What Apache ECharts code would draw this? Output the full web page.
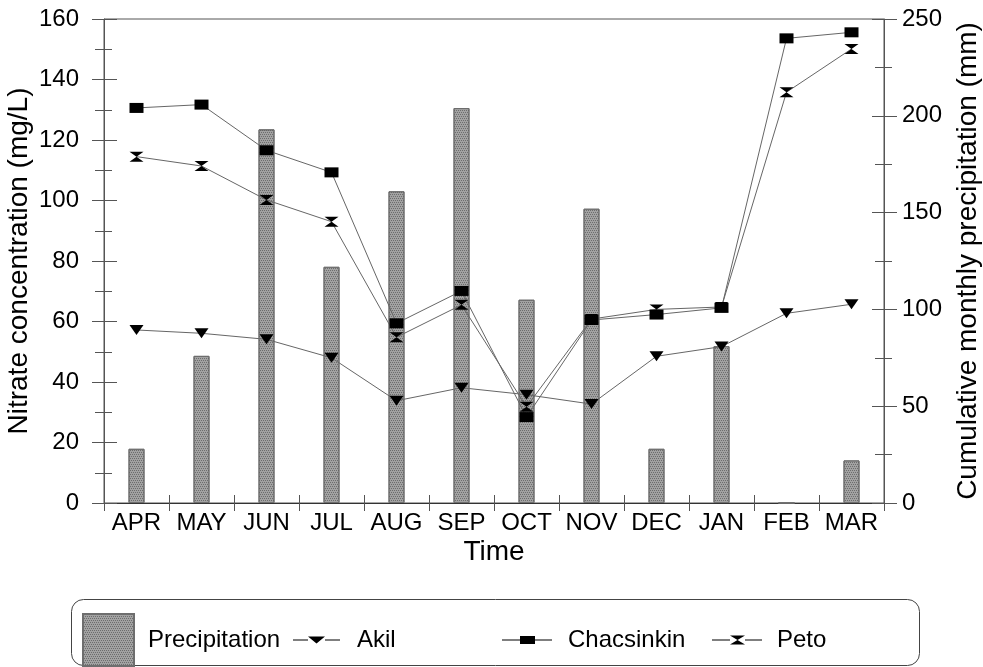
<!DOCTYPE html>
<html>
<head>
<meta charset="utf-8">
<script src="https://cdn.jsdelivr.net/npm/echarts@6/dist/echarts.min.js"></script>
<style>html,body{margin:0;padding:0;background:#fff}#c{width:983px;height:667px}</style>
</head>
<body>
<div id="c"></div>
<script>
// ---- data ----
const months = ['APR','MAY','JUN','JUL','AUG','SEP','OCT','NOV','DEC','JAN','FEB','MAR'];
const precipitation = [28, 76, 193, 122, 161, 204, 105, 152, 28, 81, 0, 22];
const akil = [57.2, 56.1, 54.1, 48.0, 33.8, 38.1, 35.8, 32.7, 48.5, 51.7, 62.7, 65.7];
const chacsinkin = [130.6, 131.7, 116.6, 109.3, 59.4, 70.1, 28.4, 60.5, 62.3, 64.5, 153.6, 155.6];
const peto = [114.5, 111.4, 100.2, 93.0, 54.8, 65.5, 31.8, 60.8, 64.0, 64.8, 135.8, 150.1];
const leftTicks = [0, 20, 40, 60, 80, 100, 120, 140, 160];
const rightTicks = [0, 50, 100, 150, 200, 250];

const FONT = "'Liberation Sans', Arial, Helvetica, sans-serif";
const AXIS_COLOR = '#555';

const akilSymbol = 'path://M0,0H14L7,10Z';
const petoSymbol = 'path://M0,0H14L7,5L14,10H0L7,5Z';

const akilIcon = 'path://M0,4.5H15V5.5H0Z M15,1.5H32L23.5,8.5Z M32,4.5H47V5.5H32Z';
const chacIcon = 'path://M0,4.5H18V5.5H0Z M18,1H33V9H18Z M33,4.5H50V5.5H33Z';
const petoIcon = 'path://M0,4.5H18V5.5H0Z M18,0.5H33L25.5,5L33,9.5H18L25.5,5Z M33,4.5H50V5.5H33Z';

function yAxisPair(pos, ticks, tickLenOut, tickLenIn, minorOut, minorIn, labelMargin, name, nameGap) {
  const min = ticks[0], max = ticks[ticks.length - 1], interval = ticks[1] - ticks[0];
  return [
    {
      type: 'value', position: pos, min: min, max: max, interval: interval,
      axisLine: { show: true, lineStyle: { color: AXIS_COLOR, width: 1 } },
      axisTick: { show: true, inside: false, length: tickLenOut, lineStyle: { color: AXIS_COLOR } },
      minorTick: { show: true, splitNumber: 2, length: minorOut, lineStyle: { color: AXIS_COLOR } },
      axisLabel: { show: true, color: '#000', fontSize: 24, fontFamily: FONT, margin: labelMargin },
      splitLine: { show: false }, minorSplitLine: { show: false },
      name: name, nameLocation: 'middle', nameGap: nameGap, nameRotate: 90, nameMoveOverlap: false,
      nameTextStyle: { color: '#000', fontSize: 28, fontFamily: FONT }
    },
    {
      type: 'value', position: pos, min: min, max: max, interval: interval,
      axisLine: { show: false },
      axisTick: { show: true, inside: true, length: tickLenIn, lineStyle: { color: AXIS_COLOR } },
      minorTick: { show: true, splitNumber: 2, length: minorIn, lineStyle: { color: AXIS_COLOR } },
      axisLabel: { show: false },
      splitLine: { show: false }, minorSplitLine: { show: false }
    }
  ];
}

const leftAxes = yAxisPair('left', leftTicks, 12, 13, 9, 8, 25, 'Nitrate concentration (mg/L)', 71);
const rightAxes = yAxisPair('right', rightTicks, 13, 12, 8, 9, 18, 'Cumulative monthly precipitation (mm)', 70);

const legendText = { color: '#000', fontSize: 24, fontFamily: FONT };

const barDecal = {
  symbol: 'rect', symbolSize: 1,
  dashArrayX: [[1, 1], [0, 1, 1, 0]],
  dashArrayY: [1, 1],
  rotation: 0,
  color: 'rgba(30,30,30,0.4)'
};

const option = {
  animation: false,
  backgroundColor: '#fff',
  grid: {
    left: 104, right: 99, top: 19, bottom: 164,
    show: true, borderColor: '#555', borderWidth: 1, backgroundColor: 'transparent',
    outerBoundsMode: 'none'
  },
  xAxis: [
    {
      type: 'category', data: months, position: 'bottom', boundaryGap: true,
      axisLine: { show: true, lineStyle: { color: '#333', width: 1 } },
      axisTick: { show: true, inside: false, length: 8, alignWithLabel: false, lineStyle: { color: AXIS_COLOR } },
      axisLabel: { color: '#000', fontSize: 24, fontFamily: FONT, margin: 8, interval: 0 },
      splitLine: { show: false },
      name: 'Time', nameLocation: 'middle', nameGap: 35, nameMoveOverlap: false,
      nameTextStyle: { color: '#000', fontSize: 28, fontFamily: FONT }
    },
    {
      type: 'category', data: months, position: 'bottom', boundaryGap: true,
      axisLine: { show: false },
      axisTick: { show: true, inside: true, length: 8, alignWithLabel: false, lineStyle: { color: AXIS_COLOR } },
      axisLabel: { show: false }, splitLine: { show: false }
    }
  ],
  yAxis: [leftAxes[0], leftAxes[1], rightAxes[0], rightAxes[1]],
  legend: [
    {
      data: [{ name: 'Precipitation', icon: 'rect' }], left: 82, top: 613, padding: 0,
      itemWidth: 51, itemHeight: 52, selectedMode: false,
      textStyle: Object.assign({ padding: [0, 0, 8, 9] }, legendText)
    },
    {
      data: [{ name: 'Akil', icon: akilIcon }], left: 293, top: 628, padding: 0,
      itemWidth: 47, itemHeight: 10, selectedMode: false,
      textStyle: Object.assign({ padding: [0, 0, 0, 12] }, legendText)
    },
    {
      data: [{ name: 'Chacsinkin', icon: chacIcon }], left: 502, top: 628, padding: 0,
      itemWidth: 50, itemHeight: 10, selectedMode: false,
      textStyle: Object.assign({ padding: [0, 0, 0, 11] }, legendText)
    },
    {
      data: [{ name: 'Peto', icon: petoIcon }], left: 712, top: 628, padding: 0,
      itemWidth: 50, itemHeight: 10, selectedMode: false,
      textStyle: Object.assign({ padding: [0, 0, 0, 10] }, legendText)
    }
  ],
  graphic: [
    {
      type: 'rect', silent: true, z: 0,
      shape: { x: 71.5, y: 599.5, width: 848, height: 66, r: 12 },
      style: { fill: 'none', stroke: '#444', lineWidth: 1 }
    }
  ],
  series: [
    {
      name: 'Precipitation', type: 'bar', xAxisIndex: 0, yAxisIndex: 2,
      data: precipitation, barWidth: 16,
      itemStyle: { color: '#a2a2a2', borderColor: '#6e6e6e', borderWidth: 1, decal: barDecal }
    },
    {
      name: 'Akil', type: 'line', xAxisIndex: 0, yAxisIndex: 0, data: akil,
      symbol: akilSymbol, symbolSize: [14, 10], showAllSymbol: true,
      lineStyle: { color: '#666', width: 1 }, itemStyle: { color: '#000' }
    },
    {
      name: 'Peto', type: 'line', xAxisIndex: 0, yAxisIndex: 0, data: peto,
      symbol: petoSymbol, symbolSize: [14, 10], showAllSymbol: true,
      lineStyle: { color: '#666', width: 1 }, itemStyle: { color: '#000' }
    },
    {
      name: 'Chacsinkin', type: 'line', xAxisIndex: 0, yAxisIndex: 0, data: chacsinkin,
      symbol: 'rect', symbolSize: [14, 10], showAllSymbol: true,
      lineStyle: { color: '#666', width: 1 }, itemStyle: { color: '#000' }
    }
  ]
};

const chart = echarts.init(document.getElementById('c'), null, { renderer: 'canvas' });
chart.setOption(option);
</script>
</body>
</html>
